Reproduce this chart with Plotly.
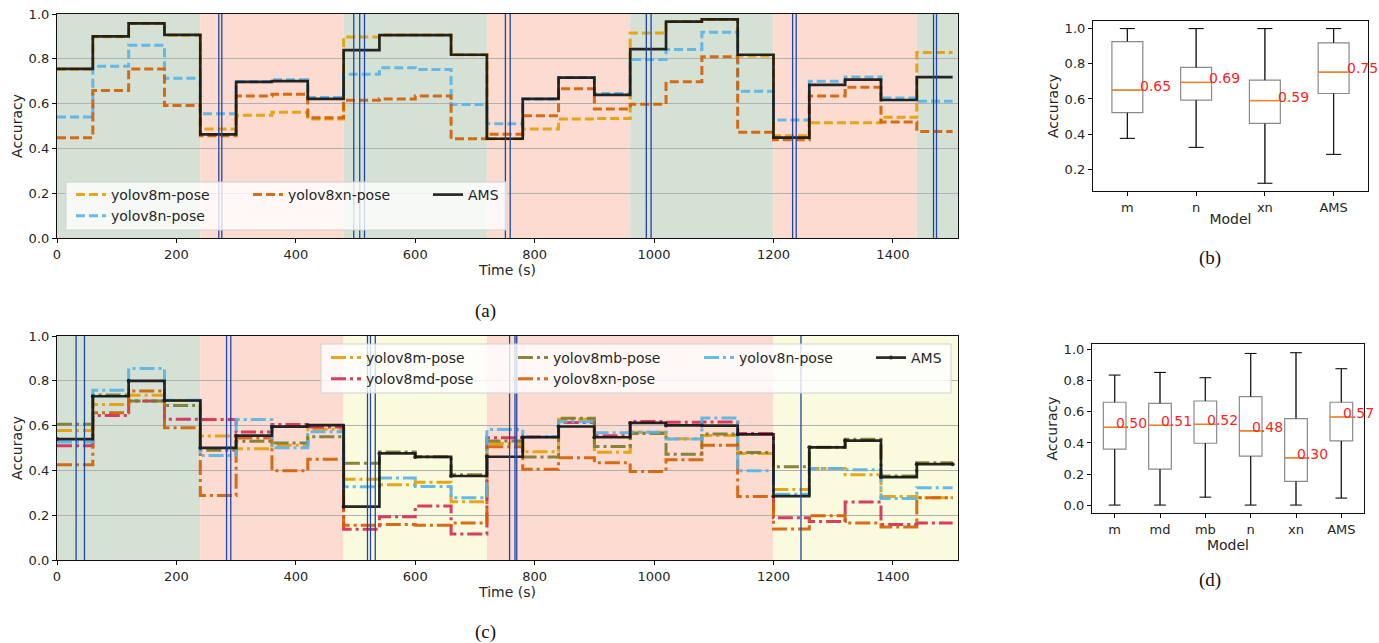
import plotly.graph_objects as go

W, H = 1379, 643

# ---------------- data ----------------
times = [0, 60, 120, 180, 240, 300, 360, 420, 480, 540, 600, 660, 720, 780, 840,
         900, 960, 1020, 1080, 1140, 1200, 1260, 1320, 1380, 1440, 1500]

# (a)
a_m = [0.753, 0.898, 0.958, 0.905, 0.487, 0.548, 0.561, 0.531, 0.897, 0.906, 0.906, 0.818, 0.443,
       0.487, 0.531, 0.534, 0.915, 0.966, 0.976, 0.812, 0.457, 0.515, 0.515, 0.539, 0.828]
a_n = [0.540, 0.767, 0.860, 0.713, 0.555, 0.697, 0.707, 0.627, 0.731, 0.760, 0.752, 0.596, 0.510,
       0.621, 0.716, 0.645, 0.797, 0.842, 0.918, 0.655, 0.527, 0.700, 0.719, 0.625, 0.610]
a_xn = [0.448, 0.658, 0.755, 0.591, 0.457, 0.634, 0.642, 0.537, 0.615, 0.621, 0.634, 0.443, 0.463,
        0.546, 0.666, 0.576, 0.597, 0.697, 0.809, 0.472, 0.439, 0.634, 0.673, 0.518, 0.476]
a_ams = [0.755, 0.900, 0.958, 0.907, 0.463, 0.697, 0.700, 0.621, 0.839, 0.906, 0.906, 0.818, 0.443,
         0.621, 0.716, 0.639, 0.843, 0.966, 0.976, 0.818, 0.448, 0.684, 0.707, 0.616, 0.718]
a_switches = [271, 276, 497, 507, 515, 751, 759, 987, 995, 1232, 1238, 1468, 1473]
a_span_start = [0, 240, 480, 720, 960, 1200, 1440]
a_span_end = [240, 480, 720, 960, 1200, 1440, 1510]
a_span_kind = ["green", "salmon", "green", "salmon", "green", "salmon", "green"]

# (c)
c_m = [0.578, 0.694, 0.736, 0.712, 0.554, 0.497, 0.512, 0.584, 0.360, 0.336, 0.347, 0.260, 0.520,
       0.483, 0.628, 0.481, 0.570, 0.541, 0.556, 0.476, 0.315, 0.408, 0.381, 0.284, 0.278]
c_md = [0.510, 0.645, 0.710, 0.628, 0.627, 0.571, 0.605, 0.594, 0.137, 0.193, 0.241, 0.116, 0.546,
        0.550, 0.614, 0.555, 0.618, 0.615, 0.616, 0.565, 0.189, 0.172, 0.259, 0.159, 0.165]
c_mb = [0.606, 0.737, 0.710, 0.690, 0.490, 0.530, 0.522, 0.550, 0.432, 0.482, 0.461, 0.381, 0.531,
        0.460, 0.633, 0.507, 0.565, 0.472, 0.562, 0.480, 0.416, 0.503, 0.539, 0.375, 0.434]
c_xn = [0.425, 0.657, 0.754, 0.590, 0.288, 0.545, 0.398, 0.450, 0.155, 0.159, 0.155, 0.165, 0.506,
        0.405, 0.457, 0.434, 0.395, 0.447, 0.512, 0.284, 0.138, 0.198, 0.165, 0.147, 0.278]
c_n = [0.527, 0.758, 0.855, 0.713, 0.467, 0.627, 0.501, 0.572, 0.327, 0.366, 0.328, 0.278, 0.583,
       0.550, 0.617, 0.568, 0.570, 0.540, 0.634, 0.398, 0.294, 0.408, 0.403, 0.274, 0.323]
c_ams = [0.540, 0.731, 0.800, 0.712, 0.501, 0.555, 0.595, 0.602, 0.238, 0.476, 0.460, 0.375, 0.461,
         0.548, 0.596, 0.548, 0.612, 0.601, 0.600, 0.561, 0.285, 0.503, 0.533, 0.370, 0.428]
c_switches = [32, 46, 284, 291, 520, 525, 533, 758, 767, 770, 1246]
c_span_start = [0, 240, 480, 720, 1200]
c_span_end = [240, 480, 720, 1200, 1510]
c_span_kind = ["green", "salmon", "yellow", "salmon", "yellow"]

# (b) box statistics
b_labels = ["m", "n", "xn", "AMS"]
b_lo = [0.376, 0.325, 0.121, 0.285]
b_q1 = [0.522, 0.593, 0.461, 0.631]
b_med = [0.650, 0.694, 0.591, 0.752]
b_q3 = [0.926, 0.779, 0.707, 0.919]
b_hi = [1.000, 1.000, 1.000, 1.000]

# (d) box statistics
d_labels = ["m", "md", "mb", "n", "xn", "AMS"]
d_lo = [0.000, 0.000, 0.051, 0.000, 0.000, 0.045]
d_q1 = [0.360, 0.231, 0.398, 0.315, 0.152, 0.413]
d_med = [0.501, 0.514, 0.520, 0.478, 0.304, 0.567]
d_q3 = [0.662, 0.655, 0.670, 0.698, 0.557, 0.662]
d_hi = [0.837, 0.854, 0.820, 0.976, 0.981, 0.878]

# ---------------- styles ----------------
FONT = "DejaVu Sans"
TXT = "#262626"
C_M, C_N, C_XN, C_MD, C_MB = "#E69F00", "#56B4E9", "#D55E00", "#D62A52", "#7A7A2E"
SPAN_COL = {"green": "#d5e1d5", "salmon": "#fcdcd0", "yellow": "#fafadf"}
SWITCH_COL = "#1f46a5"
DASH = "9px,4px"
DASHDOT = "15px,4px,3px,4px"


def px(x):
    return x / W


def py(y):
    return 1 - y / H


fig = go.Figure()


def step(xa, ya, vals, name, color, dash, width, legend, marker=False):
    ys = list(vals) + [vals[-1]]
    fig.add_trace(go.Scatter(
        x=times, y=ys, name=name, xaxis=xa, yaxis=ya,
        mode="lines+markers" if marker else "lines",
        line=dict(color=color, dash=dash, width=width, shape="hv"),
        marker=dict(size=4, color=color) if marker else None,
        opacity=0.9, legend=legend, hoverinfo="skip"))


# (a)
step("x", "y", a_m, "yolov8m-pose", C_M, DASH, 3, "legend")
step("x", "y", a_n, "yolov8n-pose", C_N, DASH, 3, "legend")
step("x", "y", a_xn, "yolov8xn-pose", C_XN, DASH, 3, "legend2")
step("x", "y", a_ams, "AMS", "#111111", "solid", 2.7, "legend3")

# (c)
step("x3", "y3", c_m, "yolov8m-pose", C_M, DASHDOT, 3, "legend4")
step("x3", "y3", c_md, "yolov8md-pose", C_MD, DASHDOT, 3, "legend4")
step("x3", "y3", c_mb, "yolov8mb-pose", C_MB, DASHDOT, 3, "legend5")
step("x3", "y3", c_xn, "yolov8xn-pose", C_XN, DASHDOT, 3, "legend5")
step("x3", "y3", c_n, "yolov8n-pose", C_N, DASHDOT, 3, "legend6")
step("x3", "y3", c_ams, "AMS", "#111111", "solid", 2.7, "legend7", marker=True)

shapes = []
for s0, s1, k in zip(a_span_start, a_span_end, a_span_kind):
    shapes.append(dict(type="rect", xref="x", yref="paper", x0=s0, x1=s1, y0=py(238), y1=py(14),
                       fillcolor=SPAN_COL[k], line=dict(width=0), layer="below"))
for s0, s1, k in zip(c_span_start, c_span_end, c_span_kind):
    shapes.append(dict(type="rect", xref="x3", yref="paper", x0=s0, x1=s1, y0=py(560), y1=py(336),
                       fillcolor=SPAN_COL[k], line=dict(width=0), layer="below"))
for s in a_switches:
    shapes.append(dict(type="line", xref="x", yref="paper", x0=s, x1=s, y0=py(238), y1=py(14),
                       line=dict(color=SWITCH_COL, width=1.3), layer="above"))
for s in c_switches:
    shapes.append(dict(type="line", xref="x3", yref="paper", x0=s, x1=s, y0=py(560), y1=py(336),
                       line=dict(color=SWITCH_COL, width=1.3), layer="above"))

# legend frames
shapes.append(dict(type="rect", xref="paper", yref="paper", x0=px(66), x1=px(507),
                   y0=py(230), y1=py(182), fillcolor="rgba(255,255,255,0.8)",
                   line=dict(color="#d0d0d0", width=1), layer="above"))
shapes.append(dict(type="rect", xref="paper", yref="paper", x0=px(321), x1=px(951),
                   y0=py(393), y1=py(344), fillcolor="rgba(255,255,255,0.8)",
                   line=dict(color="#d0d0d0", width=1), layer="above"))


# boxes
def boxes(xa, ya, labels, lo, q1, med, q3, hi, bw, cw, txt_off, txt_size):
    pos = list(range(1, len(labels) + 1))
    fig.add_trace(go.Box(x=pos, q1=q1, median=med, q3=q3, lowerfence=lo, upperfence=hi,
                         xaxis=xa, yaxis=ya, width=bw, whiskerwidth=0.0001,
                         fillcolor="rgba(255,255,255,0)", line=dict(color="#8a8a8a", width=1.2),
                         showlegend=False, hoverinfo="skip", boxpoints=False))
    wx, wy = [], []
    for p, l, a, b, h in zip(pos, lo, q1, q3, hi):
        wx += [p, p, None, p, p, None, p - cw, p + cw, None, p - cw, p + cw, None]
        wy += [b, h, None, a, l, None, h, h, None, l, l, None]
    fig.add_trace(go.Scatter(x=wx, y=wy, xaxis=xa, yaxis=ya, mode="lines",
                             line=dict(color="#111111", width=1.1), showlegend=False,
                             hoverinfo="skip"))
    mx, my = [], []
    for p, m in zip(pos, med):
        mx += [p - bw / 2, p + bw / 2, None]
        my += [m, m, None]
    fig.add_trace(go.Scatter(x=mx, y=my, xaxis=xa, yaxis=ya, mode="lines",
                             line=dict(color="#ff7f0e", width=1.3), showlegend=False,
                             hoverinfo="skip"))
    anns = []
    for p, m in zip(pos, med):
        anns.append(dict(x=p + txt_off, y=m, xref=xa, yref=ya, text=f"{m:.2f}",
                         showarrow=False, xanchor="left", yanchor="middle", yshift=4,
                         xshift=-2, font=dict(family=FONT, size=txt_size, color="#ff1f1f")))
    return anns, pos


ann_b, pos_b = boxes("x2", "y2", b_labels, b_lo, b_q1, b_med, b_q3, b_hi, 0.45, 0.11, 0.19, 14)
ann_d, pos_d = boxes("x4", "y4", d_labels, d_lo, d_q1, d_med, d_q3, d_hi, 0.5, 0.13, 0.03, 14)

captions = []
for t, x, y in [("(a)", 485, 311), ("(b)", 1210, 258), ("(c)", 485, 632), ("(d)", 1210, 580)]:
    captions.append(dict(x=px(x), y=py(y), xref="paper", yref="paper", text=t, showarrow=False,
                         xanchor="center", yanchor="middle",
                         font=dict(family="Liberation Serif", size=19, color="#111111")))

tickfont = dict(family=FONT, size=13, color=TXT)
titlefont = dict(family=FONT, size=14, color=TXT)


def xax(dom, rng, anchor, tv, tt=None, title=None, standoff=2):
    d = dict(domain=dom, range=rng, anchor=anchor, tickvals=tv, showline=True, mirror=True,
             linecolor="#111111", linewidth=1.2, ticks="outside", ticklen=4, tickcolor="#111111",
             showgrid=False, zeroline=False, tickfont=tickfont, automargin=False,
             title=dict(text=title, font=titlefont, standoff=standoff))
    if tt is not None:
        d["ticktext"] = tt
    return d


def yax(dom, rng, anchor, tv, grid, standoff=2):
    return dict(domain=dom, range=rng, anchor=anchor, tickvals=tv, tickformat=".1f",
                showline=True, mirror=True, linecolor="#111111", linewidth=1.2,
                ticks="outside", ticklen=4, tickcolor="#111111", showgrid=grid,
                gridcolor="#b0b0b0", gridwidth=1, zeroline=False, tickfont=tickfont,
                automargin=False,
                title=dict(text="Accuracy", font=titlefont, standoff=standoff))


ticks_t = [0, 200, 400, 600, 800, 1000, 1200, 1400]
ticks_acc = [0.0, 0.2, 0.4, 0.6, 0.8, 1.0]

legfont = dict(family=FONT, size=14, color=TXT)


def leg(x_text, y_top):
    return dict(x=px(x_text - 42), y=py(y_top), xanchor="left", yanchor="top",
                bgcolor="rgba(0,0,0,0)", borderwidth=0, font=legfont, tracegroupgap=0,
                itemwidth=30, orientation="v")


fig.update_layout(
    width=W, height=H, margin=dict(l=0, r=0, t=0, b=0, autoexpand=False), autosize=False,
    paper_bgcolor="white", plot_bgcolor="white", showlegend=True,
    font=dict(family=FONT, color=TXT),
    xaxis=xax([px(57), px(958)], [0, 1509], "y", ticks_t, title="Time (s)"),
    yaxis=yax([py(238), py(14)], [0, 1.0], "x", ticks_acc, True),
    xaxis3=xax([px(57), px(958)], [0, 1509], "y3", ticks_t, title="Time (s)"),
    yaxis3=yax([py(560), py(336)], [0, 1.0], "x3", ticks_acc, True),
    xaxis2=xax([px(1093), px(1368)], [0.5, len(b_labels) + 0.5], "y2", pos_b, b_labels, "Model", 0),
    yaxis2=yax([py(191), py(21)], [0.077, 1.043], "x2", [0.2, 0.4, 0.6, 0.8, 1.0], False),
    xaxis4=xax([px(1092), px(1364)], [0.5, len(d_labels) + 0.5], "y4", pos_d, d_labels, "Model", 0),
    yaxis4=yax([py(513), py(344)], [-0.051, 1.037], "x4", ticks_acc, False),
    legend=leg(113, 179),
    legend2=leg(290, 179),
    legend3=leg(470, 179),
    legend4=leg(368, 342),
    legend5=leg(555, 342),
    legend6=leg(741, 342),
    legend7=leg(913, 342),
    shapes=shapes,
    annotations=ann_b + ann_d + captions,
)

fig.write_html("out.html", config={"displayModeBar": False},
               post_script="document.body.style.margin='0px';")
